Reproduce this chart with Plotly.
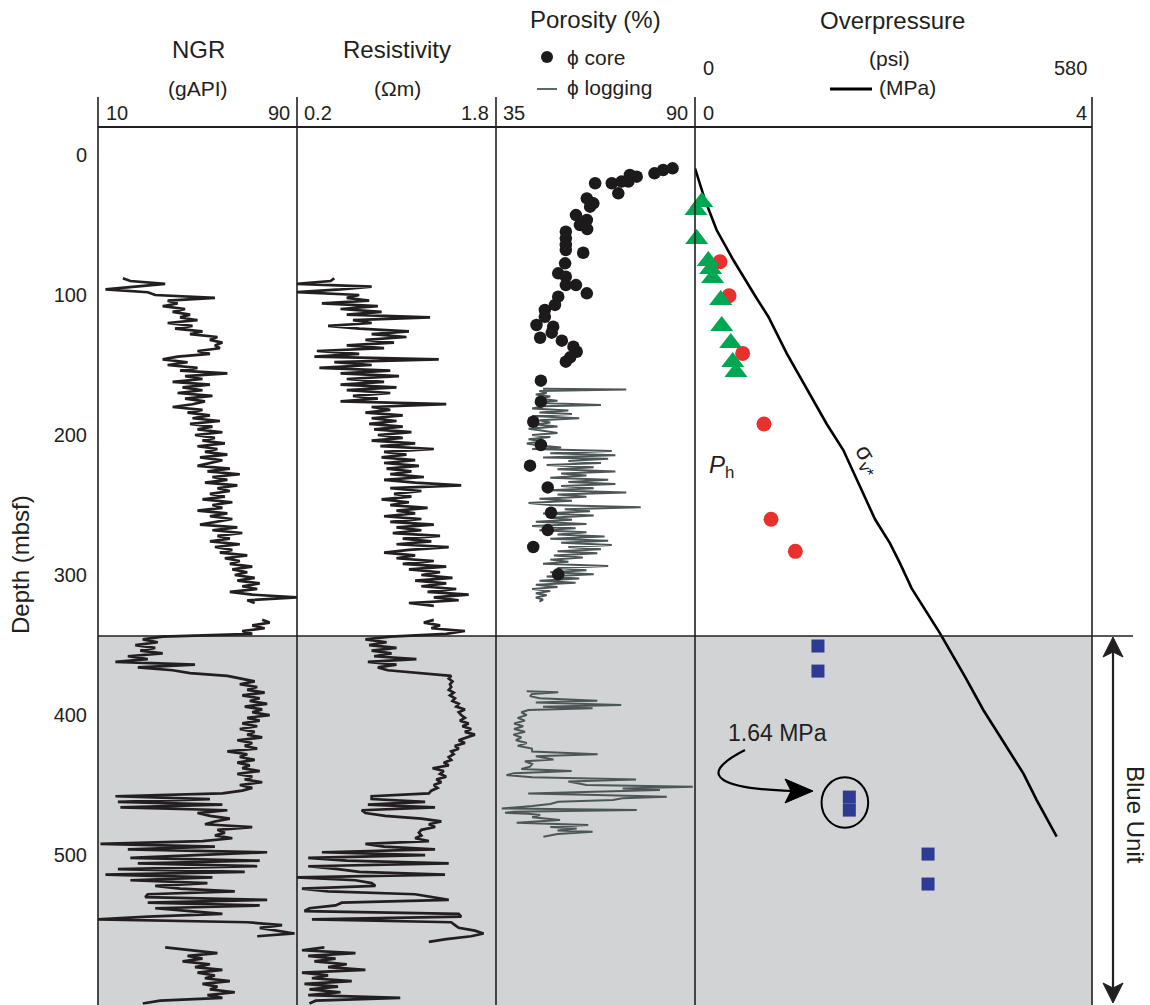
import numpy as np
import plotly.graph_objects as go

W, H = 1150, 1005
FONT = "Liberation Sans, Arial, Helvetica, sans-serif"
INK = "#231f20"
GREY_FILL = "#d1d3d4"
LOG_GREY = "#4d5657"

# ---------------- data ----------------
depth_ticks = [0, 100, 200, 300, 400, 500]
blue_unit_top = 343.6
depth_bottom = 607.1
depth_top = -20
step = 2  # m between log samples

# NGR (gAPI)
ngr_upper_start = 88
ngr_upper = [20, 23, 37, 25, 13, 30, 33, 57, 38, 42, 36, 45, 40, 47, 43, 50, 38, 48, 41, 52,
             47, 58, 55, 60, 57, 59, 50, 55, 42, 36, 46, 38, 50, 43, 62, 45, 52, 40, 55, 44,
             52, 42, 56, 45, 53, 48, 40, 52, 46, 55, 48, 59, 47, 56, 50, 60, 49, 57, 52, 61,
             50, 58, 53, 62, 51, 60, 55, 50, 63, 54, 67, 56, 62, 53, 66, 58, 63, 55, 61, 52,
             64, 56, 60, 50, 62, 55, 64, 57, 51, 66, 56, 68, 58, 63, 55, 67, 57, 64, 59, 70,
             61, 67, 63, 72, 64, 70, 65, 73, 66, 75, 68, 74, 63, 72, 90, 70, 73]
ngr_lower_start = 332
ngr_lower = [76, 79, 72, 77, 68, 72, 36, 28, 34, 25, 33, 27, 36, 22, 30, 17, 49, 26, 40, 47,
             62, 68, 73, 67, 74, 70, 77, 68, 75, 71, 78, 69, 76, 72, 79, 70, 75, 68, 74, 67,
             73, 70, 76, 66, 72, 69, 74, 62, 70, 67, 73, 66, 71, 68, 75, 66, 72, 69, 76, 67,
             72, 68, 60, 17, 55, 18, 60, 19, 62, 50, 55, 63, 57, 53, 72, 58, 61, 57, 64, 52,
             11, 57, 22, 78, 51, 23, 75, 26, 74, 18, 69, 13, 56, 23, 54, 33, 43, 65, 30, 29,
             78, 30, 75, 33, 47, 60, 30, 10, 70, 84, 75, 83, 89, 74]
ngr_bottom_start = 566
ngr_bottom = [37, 48, 58, 46, 52, 44, 55, 49, 60, 50, 57, 53, 63, 52, 58, 55, 65, 54, 60, 35, 28]

# Resistivity (Ohm m)
res_upper_start = 88
res_upper = [0.5, 0.47, 0.2, 0.8, 0.55, 0.2, 0.7, 0.6, 0.78, 0.4, 0.85, 0.55, 0.88, 0.6, 1.27,
             0.65, 0.8, 0.45, 0.7, 1.1, 0.8, 1.08, 0.75, 0.98, 0.6, 0.9, 0.36, 0.7, 0.34, 1.34,
             0.5, 0.8, 0.38, 0.95, 0.55, 1.02, 0.6, 0.9, 0.55, 1.0, 0.6, 0.95, 0.65, 0.85, 0.55,
             1.4, 0.8, 0.95, 0.75, 1.05, 0.8, 1.0, 0.78, 1.05, 0.82, 1.12, 0.85, 1.05, 0.8, 1.15,
             0.87, 1.3, 0.9, 1.08, 0.88, 1.15, 0.9, 1.18, 0.92, 1.12, 0.95, 1.22, 0.9, 1.15, 1.52,
             0.95, 1.2, 0.98, 1.12, 0.88, 1.1, 0.95, 1.25, 1.0, 1.15, 0.9, 1.2, 0.95, 1.3, 1.0,
             1.2, 0.97, 1.35, 1.05, 1.28, 1.0, 1.42, 1.1, 0.9, 1.15, 1.0, 1.3, 1.05, 1.4, 1.1,
             1.35, 1.2, 1.45, 1.15, 1.4, 1.2, 1.48, 1.25, 1.58, 1.3, 1.5, 1.1, 1.3]
res_lower_start = 332
res_lower = [1.3, 1.22, 1.35, 1.28, 1.55, 1.4, 0.95, 0.75, 0.92, 0.78, 1.0, 0.8, 0.96, 0.82,
             1.16, 0.77, 1.0, 0.85, 0.93, 1.2, 1.44, 1.42, 1.45, 1.43, 1.44, 1.42, 1.46, 1.43,
             1.47, 1.45, 1.5, 1.48, 1.55, 1.5, 1.52, 1.55, 1.51, 1.58, 1.53, 1.6, 1.55, 1.63,
             1.57, 1.5, 1.55, 1.47, 1.5, 1.44, 1.46, 1.42, 1.44, 1.38, 1.42, 1.29, 1.38, 1.35,
             1.4, 1.32, 1.36, 1.3, 1.33, 1.28, 1.26, 0.8, 0.8, 1.23, 0.77, 1.31, 0.72, 0.75,
             0.91, 1.2, 1.36, 1.26, 1.31, 1.2, 1.18, 1.2, 1.15, 1.26, 0.75, 0.9, 1.31, 0.4,
             1.23, 0.29, 0.6, 1.42, 0.29, 0.53, 0.7, 1.39, 0.2, 0.67, 0.8, 0.83, 0.24, 0.45,
             1.15, 1.3, 1.42, 0.56, 0.51, 0.3, 0.26, 1.5, 1.52, 0.32, 1.44, 1.47, 1.5, 1.63,
             1.7, 1.6, 1.4, 1.26]
res_bottom_start = 566
res_bottom = [0.42, 0.24, 0.67, 0.29, 0.51, 0.34, 0.6, 0.45, 0.75, 0.24, 0.45, 0.32, 0.64,
              0.26, 0.53, 0.3, 0.55, 0.29, 1.03, 0.35, 0.3]

# Porosity (%) - core
core_depth = [9.5, 10.7, 13.1, 15.5, 14.3, 19.0, 19.0, 27.4, 20.2, 20.2, 36.9, 31.0, 34.5,
              42.9, 46.4, 50.0, 52.9, 54.8, 59.5, 64.3, 67.9, 69.8, 77.4, 84.5, 86.9, 92.9,
              92.9, 98.8, 101.2, 107.1, 110.7, 115.5, 121.4, 122.6, 126.9, 130.5, 132.6,
              136.9, 140.5, 144.5, 147.6, 161.2, 176.2, 190.5, 207.1, 221.9, 237.4, 255.5,
              267.9, 280.0, 299.5]
core_phi = [83.8, 81.2, 78.8, 73.9, 72.0, 71.6, 69.7, 68.8, 67.0, 62.4, 61.0, 60.1, 61.9,
            57.1, 60.1, 58.2, 60.2, 54.3, 54.3, 54.3, 54.3, 59.1, 54.1, 52.2, 54.3, 54.3,
            57.1, 60.1, 52.2, 51.3, 48.5, 48.5, 46.2, 50.8, 50.4, 47.2, 53.2, 56.4, 57.3,
            55.5, 54.3, 47.4, 47.4, 45.3, 47.4, 44.4, 49.3, 50.2, 49.3, 45.3, 52.2]

# Porosity (%) - logging
log_up_depth = [167, 167.5, 168.5, 170, 171, 172.5, 174, 175.5, 177, 178.5, 179.5, 181, 182.5,
                184, 185, 186.5, 188, 189.5, 191, 192.5, 194, 195.5, 197, 198.5, 200, 201.5,
                203, 204.5, 206, 207.5, 209, 210, 211.5, 213, 214.5, 216, 217, 218.5, 220,
                221.5, 223, 224.5, 226, 227.5, 229, 230.5, 232, 233.5, 235, 236.5, 238, 239.5,
                241, 242.5, 244, 245.5, 247, 248.5, 250, 251.5, 253, 254.5, 256, 257.5, 259,
                260.5, 262, 263.5, 265, 266.5, 268, 269.5, 271, 272.5, 274, 275.5, 277, 278.5,
                280, 281.5, 283, 284.5, 286, 287.5, 289, 290.5, 292, 293.5, 295, 296.5, 298,
                299.5, 301, 302.5, 304, 305.5, 307, 308.5, 310, 311.5, 313, 314.5, 316, 317.5,
                319]
log_up_phi = [48, 71, 47, 49, 46, 50, 47, 52, 46, 64, 48, 45, 55, 47, 56, 45, 58, 47, 50, 46,
              52, 44, 48, 52, 45, 50, 44, 48, 43.5, 47, 53, 45, 67, 50, 68, 48, 66, 55, 64, 49,
              62, 52, 68, 53, 60, 50, 66, 55, 68, 53, 62, 50, 71, 52, 60, 47, 56, 44, 50, 75,
              54, 61, 48, 62, 50, 56, 46, 60, 45, 57, 47, 60, 52, 65, 50, 66, 53, 67, 55, 64,
              52, 63, 51, 59, 50, 55, 48, 66, 52, 60, 50, 62, 49, 58, 47, 57, 46, 52, 45, 50,
              46, 49, 46, 48, 47]
log_lo_depth = [383, 383.8, 385, 386.5, 388, 389.8, 391, 392.9, 394, 395.2, 396.4, 398, 400,
                402, 404, 406, 408, 410, 412, 414, 416, 418, 420, 422, 424, 426, 428, 429.5,
                431.7, 433, 435, 436.9, 438.5, 440, 441.5, 442.9, 444.5, 446, 447.5, 448.8,
                450, 451.2, 452.5, 453.6, 455, 456, 457, 458.3, 459.5, 460.7, 461.9, 463.5,
                465, 466.7, 467.9, 469, 469.8, 470.5, 471.4, 473, 475, 476.9, 478.6, 480,
                481, 482.5, 483.3, 485, 486.9]
log_lo_phi = [43.5, 52.2, 45, 44.4, 47, 63, 46, 69.6, 48, 61.7, 44, 42, 43.5, 41, 43, 40, 42.5,
              40, 43, 39.8, 42, 40.5, 43.5, 41, 44.9, 45, 63.1, 46, 50.9, 43, 45, 44.4, 42,
              55.9, 40, 37.9, 45, 73.7, 55, 57.3, 60, 89.4, 70, 80.3, 55, 43.9, 60, 82.2, 70,
              67.3, 52.2, 50, 45, 36.6, 73.9, 40, 37.5, 44, 47.2, 45, 52.7, 40.7, 60.5, 50,
              57.3, 52, 61.7, 52, 48.1]

# Overpressure (MPa)
sigma_depth = [9.5, 32, 53.6, 75, 100.5, 115.5, 141.7, 192.1, 210.7, 234.5, 260.2, 277.4,
               291.7, 309.5, 341.7, 372.6, 396.4, 441.7, 460.7, 486.9]
sigma_mpa = [0, 0.10, 0.218, 0.386, 0.605, 0.739, 0.924, 1.327, 1.494, 1.646, 1.814, 1.965,
             2.066, 2.183, 2.469, 2.72, 2.905, 3.308, 3.443, 3.644]
red_depth = [76.2, 100.5, 141.7, 192.1, 260.2, 283.1]
red_mpa = [0.252, 0.343, 0.480, 0.695, 0.766, 1.011]
green_depth = [33.6, 39.3, 60.0, 75.7, 81.4, 87.9, 103.6, 122.1, 134.3, 147.9, 155.0]
green_mpa = [0.068, 0.010, 0.017, 0.134, 0.158, 0.178, 0.259, 0.269, 0.360, 0.380, 0.413]
blue_depth = [350.7, 368.6, 458.6, 467.9, 499.3, 520.7]
blue_mpa = [1.239, 1.239, 1.555, 1.555, 2.348, 2.348]
circled_mpa = 1.51
circled_depth = 462.5

# panel scales
ngr_range = [10, 90]
res_range = [0.2, 1.8]
phi_range = [35, 90]
mpa_range = [0, 4]

# ---------------- helpers ----------------
def px(x):
    return x / W


def py(y):
    return 1 - y / H


def depths(start, vals):
    return start + step * np.arange(len(vals))


fig = go.Figure()

line_style = dict(color=INK, width=2.7)
for start, vals in [(ngr_upper_start, ngr_upper), (ngr_lower_start, ngr_lower),
                    (ngr_bottom_start, ngr_bottom)]:
    fig.add_trace(go.Scatter(x=vals, y=depths(start, vals), mode="lines", line=line_style,
                             xaxis="x", yaxis="y", showlegend=False))
for start, vals in [(res_upper_start, res_upper), (res_lower_start, res_lower),
                    (res_bottom_start, res_bottom)]:
    fig.add_trace(go.Scatter(x=vals, y=depths(start, vals), mode="lines", line=line_style,
                             xaxis="x2", yaxis="y", showlegend=False))

for d, v in [(log_up_depth, log_up_phi), (log_lo_depth, log_lo_phi)]:
    fig.add_trace(go.Scatter(x=v, y=d, mode="lines", line=dict(color=LOG_GREY, width=2),
                             xaxis="x3", yaxis="y", showlegend=False))
fig.add_trace(go.Scatter(x=core_phi, y=core_depth, mode="markers", cliponaxis=False,
                         marker=dict(color="#1c1a1b", size=12.5, line=dict(width=0)),
                         xaxis="x3", yaxis="y", showlegend=False))

fig.add_trace(go.Scatter(x=sigma_mpa, y=sigma_depth, mode="lines",
                         line=dict(color="#000000", width=2.6),
                         xaxis="x4", yaxis="y", showlegend=False))
fig.add_trace(go.Scatter(x=red_mpa, y=red_depth, mode="markers", cliponaxis=False,
                         marker=dict(color="#e8312f", size=15, line=dict(width=0)),
                         xaxis="x4", yaxis="y", showlegend=False))
fig.add_trace(go.Scatter(x=green_mpa, y=green_depth, mode="markers", cliponaxis=False,
                         marker=dict(color="#00a651", size=20, symbol="triangle-up",
                                     line=dict(width=0)),
                         xaxis="x4", yaxis="y", showlegend=False))
fig.add_trace(go.Scatter(x=blue_mpa, y=blue_depth, mode="markers", cliponaxis=False,
                         marker=dict(color="#2e3a93", size=13, symbol="square",
                                     line=dict(width=0)),
                         xaxis="x4", yaxis="y", showlegend=False))

# ---------------- axes ----------------
edges = [98, 297, 496, 695, 1092]
plot_top = 127


def xax(i, rng):
    return dict(domain=[px(edges[i]), px(edges[i + 1])], range=rng, visible=False,
                fixedrange=True, anchor="y")


fig.update_layout(
    width=W, height=H,
    margin=dict(l=0, r=0, t=0, b=0, pad=0),
    paper_bgcolor="white", plot_bgcolor="rgba(0,0,0,0)",
    font=dict(family=FONT, color=INK),
    xaxis=xax(0, ngr_range), xaxis2=xax(1, res_range),
    xaxis3=xax(2, phi_range), xaxis4=xax(3, mpa_range),
    yaxis=dict(domain=[0, py(plot_top)], range=[depth_bottom, depth_top],
               tickvals=depth_ticks, ticks="", showgrid=False, zeroline=False,
               showline=False, anchor="x", ticklabelstandoff=10, fixedrange=True,
               tickfont=dict(size=20, color=INK, family=FONT)),
    showlegend=False,
)

# ---------------- shapes ----------------
shapes = []
shapes.append(dict(type="rect", xref="paper", yref="y", x0=px(edges[0]), x1=px(edges[-1]),
                   y0=blue_unit_top, y1=depth_bottom, fillcolor=GREY_FILL,
                   line=dict(width=0), layer="below"))
for e in edges:
    shapes.append(dict(type="line", xref="paper", yref="paper", x0=px(e), x1=px(e),
                       y0=py(97), y1=0, line=dict(color=INK, width=1.6)))
shapes.append(dict(type="line", xref="paper", yref="paper", x0=px(edges[0]), x1=px(edges[-1]),
                   y0=py(plot_top), y1=py(plot_top), line=dict(color=INK, width=2)))
shapes.append(dict(type="line", xref="paper", yref="y", x0=px(edges[0]), x1=px(1133),
                   y0=blue_unit_top, y1=blue_unit_top, line=dict(color=INK, width=1.6)))

# Blue Unit double arrow
ax_x = 1113
shapes.append(dict(type="line", xref="paper", yref="paper", x0=px(ax_x), x1=px(ax_x),
                   y0=py(648), y1=py(992), line=dict(color=INK, width=2.2)))
shapes.append(dict(type="path", xref="paper", yref="paper",
                   path=f"M {px(ax_x)},{py(637)} L {px(ax_x + 10)},{py(657)} L {px(ax_x)},{py(652)} "
                        f"L {px(ax_x - 10)},{py(657)} Z",
                   fillcolor=INK, line=dict(color=INK, width=1)))
shapes.append(dict(type="path", xref="paper", yref="paper",
                   path=f"M {px(ax_x)},{py(1003)} L {px(ax_x + 10)},{py(983)} L {px(ax_x)},{py(988)} "
                        f"L {px(ax_x - 10)},{py(983)} Z",
                   fillcolor=INK, line=dict(color=INK, width=1)))

# legend glyphs
shapes.append(dict(type="circle", xref="paper", yref="paper", x0=px(541), x1=px(553),
                   y0=py(51), y1=py(63), fillcolor="#1c1a1b", line=dict(width=0)))
shapes.append(dict(type="line", xref="paper", yref="paper", x0=px(537), x1=px(557),
                   y0=py(89), y1=py(89), line=dict(color=LOG_GREY, width=1.8)))
shapes.append(dict(type="line", xref="paper", yref="paper", x0=px(830), x1=px(872),
                   y0=py(89), y1=py(89), line=dict(color="#000000", width=3)))

# circle around the 1.64 MPa measurement
shapes.append(dict(type="circle", xref="x4", yref="y",
                   x0=circled_mpa - 0.235, x1=circled_mpa + 0.235,
                   y0=circled_depth - 18, y1=circled_depth + 18,
                   line=dict(color="#000000", width=2)))
# curved arrow
shapes.append(dict(type="path", xref="paper", yref="paper",
                   path=f"M {px(745)},{py(750)} C {px(690)},{py(778)} {px(728)},{py(789)} "
                        f"{px(792)},{py(791)}",
                   line=dict(color="#000000", width=2.2)))
shapes.append(dict(type="path", xref="paper", yref="paper",
                   path=f"M {px(813)},{py(791)} L {px(785)},{py(779)} L {px(791)},{py(791)} "
                        f"L {px(785)},{py(803)} Z",
                   fillcolor="#000000", line=dict(color="#000000", width=1)))

fig.update_layout(shapes=shapes)

# ---------------- text ----------------
ann = []


def txt(text, x, y, size, xanchor="center", angle=0, yanchor="middle", **kw):
    ann.append(dict(text=text, x=px(x), y=py(y), xref="paper", yref="paper",
                    showarrow=False, xanchor=xanchor, yanchor=yanchor, textangle=angle,
                    font=dict(size=size, family=FONT, color=INK), **kw))


txt("NGR", 198, 49, 24)
txt("(gAPI)", 198, 89, 21)
txt("10", 104, 113, 20, "left")
txt("90", 292, 113, 20, "right")
txt("Resistivity", 397, 49, 24)
txt("(Ωm)", 397, 89, 21)
txt("0.2", 302, 113, 20, "left")
txt("1.8", 491, 113, 20, "right")
txt("Porosity (%)", 595, 19, 24)
txt("ϕ core", 565, 57, 21, "left")
txt("ϕ logging", 565, 88, 21, "left")
txt("35", 501, 113, 20, "left")
txt("90", 690, 113, 20, "right")
txt("Overpressure", 892, 20, 24)
txt("(psi)", 889, 58, 21)
txt("0", 701, 68, 20, "left")
txt("580", 1089, 68, 20, "right")
txt("(MPa)", 877, 88, 21, "left")
txt("0", 701, 113, 20, "left")
txt("4", 1089, 113, 20, "right")
txt("Depth (mbsf)", 20, 565, 24, angle=-90)
txt("<i>P</i><sub>h</sub>", 721, 466, 24)
txt("σ<sub>v*</sub>", 868, 460, 24, angle=61)
txt("1.64 MPa", 777, 733, 23)
txt("Blue Unit", 1136, 815, 24, angle=90)

fig.update_layout(annotations=ann)

fig.write_html("out.html")
